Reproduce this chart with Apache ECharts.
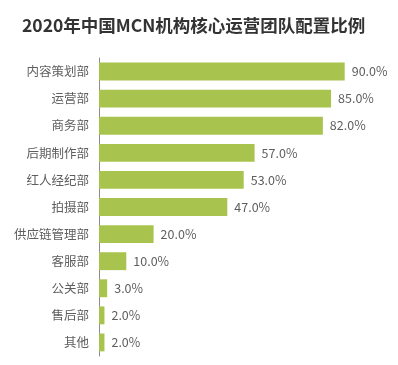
<!DOCTYPE html>
<html><head><meta charset="utf-8">
<script src="https://cdn.jsdelivr.net/npm/echarts@6/dist/echarts.min.js"></script>
<style>html,body{margin:0;padding:0;background:#fff}#c{width:398px;height:365px}</style>
</head><body><div id="c"></div>
<script>
const categories = ["内容策划部","运营部","商务部","后期制作部","红人经纪部","拍摄部","供应链管理部","客服部","公关部","售后部","其他"];
const values = [90, 85, 82, 57, 53, 47, 20, 10, 3, 2, 2];
const chart = echarts.init(document.getElementById('c'));
chart.setOption({
  animation: false,
  title: {
    text: "2020年中国MCN机构核心运营团队配置比例",
    left: 17, top: 12,
    textStyle: {fontFamily: "Noto Sans CJK SC", fontWeight: "bold", fontSize: 17.5, color: "#333"}
  },
  grid: {left: 99, top: 58, width: 273, height: 298, containLabel: false},
  xAxis: {type: 'value', min: 0, max: 100, show: false},
  yAxis: {
    type: 'category', inverse: true, data: categories,
    axisLine: {show: true, lineStyle: {color: '#8c8c8c', width: 1}},
    axisTick: {show: false},
    axisLabel: {color: '#5e5e5e', fontSize: 12.5, fontFamily: "Noto Sans CJK SC", margin: 10}
  },
  series: [{
    type: 'bar', data: values, barCategoryGap: '34%',
    itemStyle: {color: '#a8c44e'},
    label: {show: true, position: 'right', distance: 7, color: '#5e5e5e', fontSize: 12.5,
      fontFamily: "Noto Sans CJK SC", formatter: p => p.value.toFixed(1) + '%'}
  }]
});
</script></body></html>
